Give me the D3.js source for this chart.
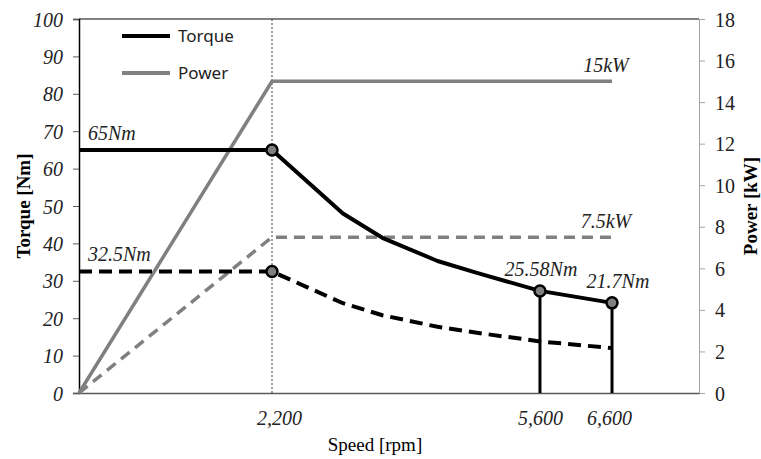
<!DOCTYPE html>
<html><head><meta charset="utf-8">
<script src="https://cdn.jsdelivr.net/npm/d3@7"></script>
<style>
html,body{margin:0;padding:0;background:#fff;}
svg{display:block;}
</style></head>
<body>
<svg id="chart" width="761" height="459"></svg>
<script>
// ---- data ----
const speeds        = [0, 2200, 3100, 3600, 4300, 4800, 5600, 6600];
const torqueFull    = [65, 65, 48, 41.5, 35.3, 32.1, 27.3, 24.1];
const torqueHalf    = [32.5, 32.5, 24, 20.8, 17.7, 16.1, 13.8, 12.0];
const powerSpeeds   = [0, 2200, 6600];
const powerFull     = [0, 15, 15];
const powerHalf     = [0, 7.5, 7.5];
const markerSpeeds  = [2200, 5600, 6600];
const stemSpeeds    = [5600, 6600];
const xTickValues   = [2200, 5600, 6600];
const xTickLabels   = ["2,200", "5,600", "6,600"];
const torqueTicks   = [0,10,20,30,40,50,60,70,80,90,100];
const powerTicks    = [0,2,4,6,8,10,12,14,16,18];
const torqueNotes   = [{s:0, v:65, t:"65Nm"}, {s:0, v:32.5, t:"32.5Nm"}, {s:5600, v:27.3, t:"25.58Nm"}, {s:6600, v:24.1, t:"21.7Nm"}];
const powerNotes    = [{s:6600, v:15, t:"15kW"}, {s:6600, v:7.5, t:"7.5kW"}];
const legendItems   = ["Torque", "Power"];

// ---- layout ----
const W = 761, H = 459;
const m = {l:79, r:62, t:19, b:66};
const iw = W - m.l - m.r, ih = H - m.t - m.b;
const svg = d3.select("#chart");
const g = svg.append("g").attr("transform", `translate(${m.l},${m.t})`);

// non-uniform (schematic) speed axis
const x = d3.scaleLinear().domain([0, 2200, 5600, 6600, 7800])
  .range([0, 0.3113, 0.7435, 0.8597, 1].map(f => f * iw));
const yT = d3.scaleLinear().domain([0, 100]).range([ih, 0]);
const yP = d3.scaleLinear().domain([0, 18]).range([ih, 0]);

const serif = "'Liberation Serif','Times New Roman',serif";
const BLACK = "#000", GREY = "#808080";

// top border
g.append("line").attr("x1",0).attr("x2",iw).attr("y1",0).attr("y2",0)
  .attr("stroke","#595959").attr("stroke-width",1.5);

// left axis
const axL = g.append("g").call(d3.axisLeft(yT).tickValues(torqueTicks).tickSize(6).tickPadding(10));
axL.select(".domain").attr("stroke","#000").attr("stroke-width",1.5);
axL.selectAll(".tick line").attr("stroke","#595959");
axL.selectAll("text").attr("font-family",serif).attr("font-style","italic").attr("font-size",20).attr("fill","#222").attr("dy","0.35em");

// right axis
const axR = g.append("g").attr("transform",`translate(${iw},0)`)
  .call(d3.axisRight(yP).tickValues(powerTicks).tickSize(6).tickPadding(10));
axR.select(".domain").attr("stroke","#a6a6a6").attr("stroke-width",1);
axR.selectAll(".tick line").attr("stroke","#a6a6a6");
axR.selectAll("text").attr("font-family",serif).attr("font-size",20).attr("fill","#222").attr("dy","0.35em");

// bottom axis
const axB = g.append("g").attr("transform",`translate(0,${ih})`)
  .call(d3.axisBottom(x).tickValues(xTickValues).tickFormat((d,i)=>xTickLabels[i]).tickSize(0).tickPadding(18));
axB.select(".domain").attr("stroke","#595959").attr("stroke-width",1.5);
axB.selectAll("text").attr("font-family",serif).attr("font-style","italic").attr("font-size",20).attr("fill","#222")
  .attr("dx",(d,i)=>i===0?7:(i===2?-3:0));

// vertical guide at base speed
g.append("line").attr("x1",x(2200)).attr("x2",x(2200)).attr("y1",0).attr("y2",ih)
  .attr("stroke","#404040").attr("stroke-width",1).attr("stroke-dasharray","2,2");

// power lines
const lineP = d3.line().x((d,i)=>x(powerSpeeds[i])).y(d=>yP(d));
g.append("path").datum(powerFull).attr("d",lineP).attr("fill","none")
  .attr("stroke",GREY).attr("stroke-width",3.5);
g.append("path").datum(powerHalf).attr("d",lineP).attr("fill","none")
  .attr("stroke",GREY).attr("stroke-width",3.5).attr("stroke-dasharray","11,7");

// stems
g.selectAll(".stem").data(stemSpeeds).enter().append("line")
  .attr("x1",d=>x(d)).attr("x2",d=>x(d))
  .attr("y1",d=>yT(torqueFull[speeds.indexOf(d)])).attr("y2",ih)
  .attr("stroke",BLACK).attr("stroke-width",3);

// torque lines
const lineT = d3.line().x((d,i)=>x(speeds[i])).y(d=>yT(d));
g.append("path").datum(torqueFull).attr("d",lineT).attr("fill","none")
  .attr("stroke",BLACK).attr("stroke-width",4).attr("stroke-linejoin","round");
g.append("path").datum(torqueHalf).attr("d",lineT).attr("fill","none")
  .attr("stroke",BLACK).attr("stroke-width",4).attr("stroke-dasharray","13,7");

// markers
const markers = markerSpeeds.map(s => ({s, v: torqueFull[speeds.indexOf(s)]}));
markers.push({s:2200, v: torqueHalf[speeds.indexOf(2200)]});
g.selectAll(".mk").data(markers).enter().append("circle")
  .attr("cx",d=>x(d.s)).attr("cy",d=>yT(d.v)).attr("r",5.5)
  .attr("fill",GREY).attr("stroke",BLACK).attr("stroke-width",2.5);

// annotations
g.selectAll(".tn").data(torqueNotes).enter().append("text")
  .attr("x",d=>x(d.s)).attr("y",d=>yT(d.v))
  .attr("dx",d=>d.s===0?9:(d.s===6600?6:1)).attr("dy",d=>d.s===0?-10:-15)
  .attr("text-anchor",d=>d.s===0?"start":"middle")
  .attr("font-family",serif).attr("font-style","italic").attr("font-size",20).attr("fill","#222")
  .text(d=>d.t);
g.selectAll(".pn").data(powerNotes).enter().append("text")
  .attr("x",d=>x(d.s)).attr("y",d=>yP(d.v)).attr("dx",-6).attr("dy",-9)
  .attr("text-anchor","middle")
  .attr("font-family",serif).attr("font-style","italic").attr("font-size",20).attr("fill","#222")
  .text(d=>d.t);

// axis titles
svg.append("text").attr("transform",`translate(30,${m.t+ih/2}) rotate(-90)`)
  .attr("text-anchor","middle").attr("font-family",serif).attr("font-weight","bold")
  .attr("font-size",19).attr("fill","#000").text("Torque [Nm]");
svg.append("text").attr("transform",`translate(757,${m.t+ih/2}) rotate(-90)`)
  .attr("text-anchor","middle").attr("font-family",serif).attr("font-weight","bold")
  .attr("font-size",19).attr("fill","#000").text("Power [kW]");
svg.append("text").attr("x",375).attr("y",451)
  .attr("text-anchor","middle").attr("font-family",serif)
  .attr("font-size",19).attr("fill","#000").text("Speed [rpm]");

// legend
const lg = svg.append("g").attr("transform","translate(122,36)");
const lgColors = [BLACK, GREY];
legendItems.forEach((t,i)=>{
  const row = lg.append("g").attr("transform",`translate(0,${i*37})`);
  row.append("line").attr("x1",0).attr("x2",48).attr("stroke",lgColors[i]).attr("stroke-width",4);
  row.append("text").attr("x",56).attr("dy","0.35em").attr("font-family","'Noto Sans','Open Sans',sans-serif")
    .attr("font-size",17).attr("fill","#222").text(t);
});
</script>
</body></html>
